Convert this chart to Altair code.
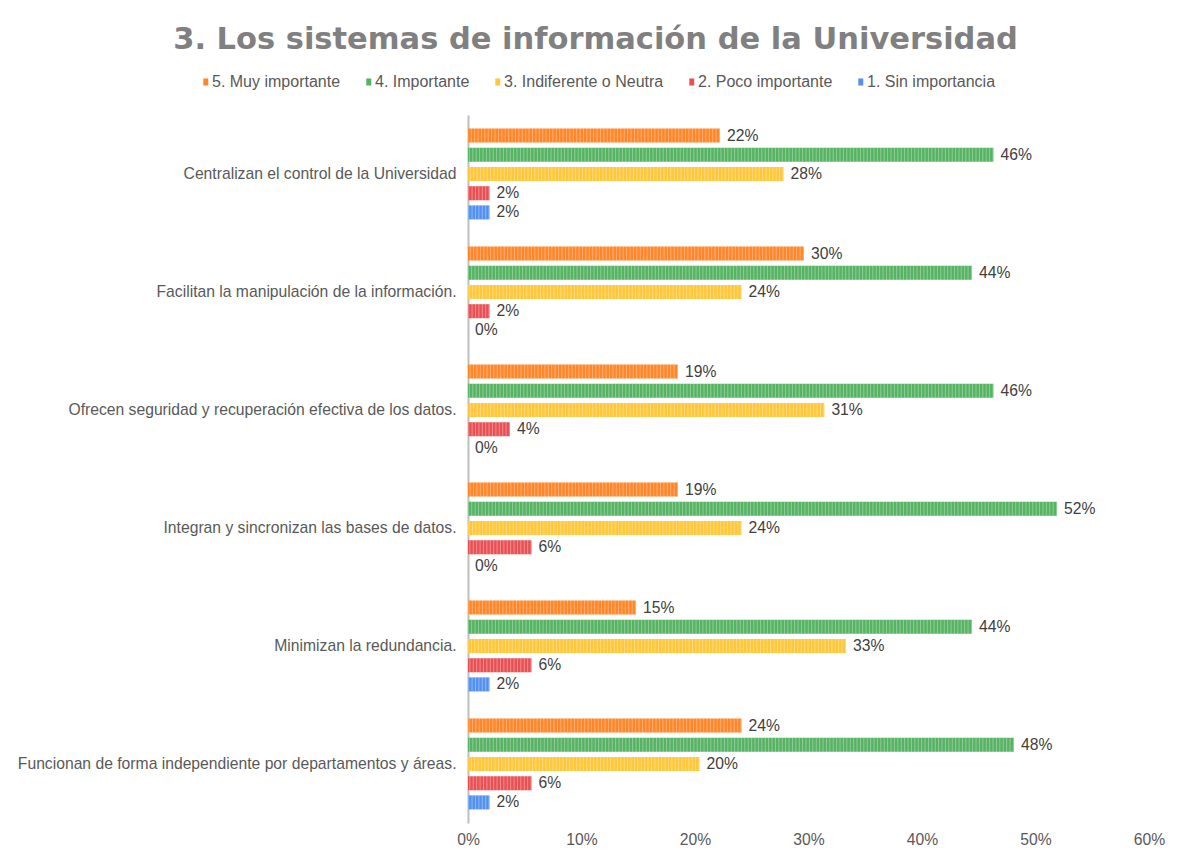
import altair as alt
import pandas as pd

categories = [
    "Centralizan el control de la Universidad",
    "Facilitan la manipulación de la información.",
    "Ofrecen seguridad y recuperación efectiva de los datos.",
    "Integran y sincronizan las bases de datos.",
    "Minimizan la redundancia.",
    "Funcionan de forma independiente por departamentos y áreas.",
]
series = ["5. Muy importante", "4. Importante", "3. Indiferente o Neutra",
          "2. Poco importante", "1. Sin importancia"]
colors = ["#FF7F1E", "#4CAF5A", "#FFC42E", "#E8474A", "#4A8BEF"]

muy_importante = [22.2, 29.6, 18.5, 18.5, 14.8, 24.1]
importante = [46.3, 44.4, 46.3, 51.9, 44.4, 48.1]
indiferente = [27.8, 24.1, 31.4, 24.1, 33.3, 20.4]
poco_importante = [1.9, 1.9, 3.7, 5.6, 5.6, 5.6]
sin_importancia = [1.9, 0.0, 0.0, 0.0, 1.9, 1.9]

values = [muy_importante, importante, indiferente, poco_importante, sin_importancia]
rows = []
for s, vals in zip(series, values):
    for c, v in zip(categories, vals):
        rows.append({"cat": c, "serie": s, "v": v / 100.0})
df = pd.DataFrame(rows)

FONT = "Liberation Sans"
FS = 15.7

y_enc = alt.Y("cat:N", sort=categories, title=None,
              scale=alt.Scale(paddingInner=0.186, paddingOuter=0.093),
              axis=alt.Axis(labelFont=FONT, labelFontSize=FS, labelColor="#595959",
                            labelPadding=12, ticks=False, domainColor="#BFBFBF",
                            domainWidth=2, labelLimit=600))
yoff = alt.YOffset("serie:N", sort=series,
                   scale=alt.Scale(paddingInner=0.27, paddingOuter=0.135))
x_enc = alt.X("v:Q", title=None,
              scale=alt.Scale(domain=[0, 0.6], nice=False),
              axis=alt.Axis(format=".0%", values=[0, 0.1, 0.2, 0.3, 0.4, 0.5, 0.6],
                            labelFont=FONT, labelFontSize=FS, labelColor="#595959",
                            labelPadding=9, labelFlush=False, ticks=False,
                            domain=False, grid=False))
color_enc = alt.Color("serie:N", sort=series,
                      scale=alt.Scale(domain=series, range=colors),
                      legend=alt.Legend(title=None, orient="none", direction="horizontal",
                                        columns=5, legendX=-272, legendY=-41,
                                        symbolType="M-0.2,-1H1.2V1H-0.2Z", symbolSize=50,
                                        symbolStrokeWidth=0, labelOffset=0,
                                        columnPadding=18, labelFont=FONT,
                                        labelFontSize=16, labelColor="#595959"))

base = alt.Chart(df)

bars = base.mark_bar(opacity=0.95).encode(y=y_enc, yOffset=yoff, x=x_enc, color=color_enc)

stripes = base.mark_rule(strokeWidth=14, strokeDash=[1, 2.4], color="white",
                         opacity=0.35).encode(
    y=alt.Y("cat:N", sort=categories), yOffset=alt.YOffset("serie:N", sort=series),
    x="v:Q", x2=alt.datum(0))

labels = base.mark_text(align="left", baseline="middle", dx=7, font=FONT,
                        fontSize=FS, color="#404040").encode(
    y=alt.Y("cat:N", sort=categories), yOffset=alt.YOffset("serie:N", sort=series),
    x="v:Q", text=alt.Text("v:Q", format=".0%"))

chart = alt.layer(bars, stripes, labels).properties(
    width=681, height=708,
    autosize=alt.AutoSizeParams(type="none"),
    padding={"left": 460, "top": 107, "right": 20, "bottom": 23},
    title=alt.TitleParams("3. Los sistemas de información de la Universidad",
                          font="DejaVu Sans", fontSize=30.5, fontWeight="bold",
                          color="#808080", anchor="middle", dx=-213, offset=19),
).configure_view(stroke=None)

chart.save("out.html", embed_options={"renderer": "svg", "actions": False})
